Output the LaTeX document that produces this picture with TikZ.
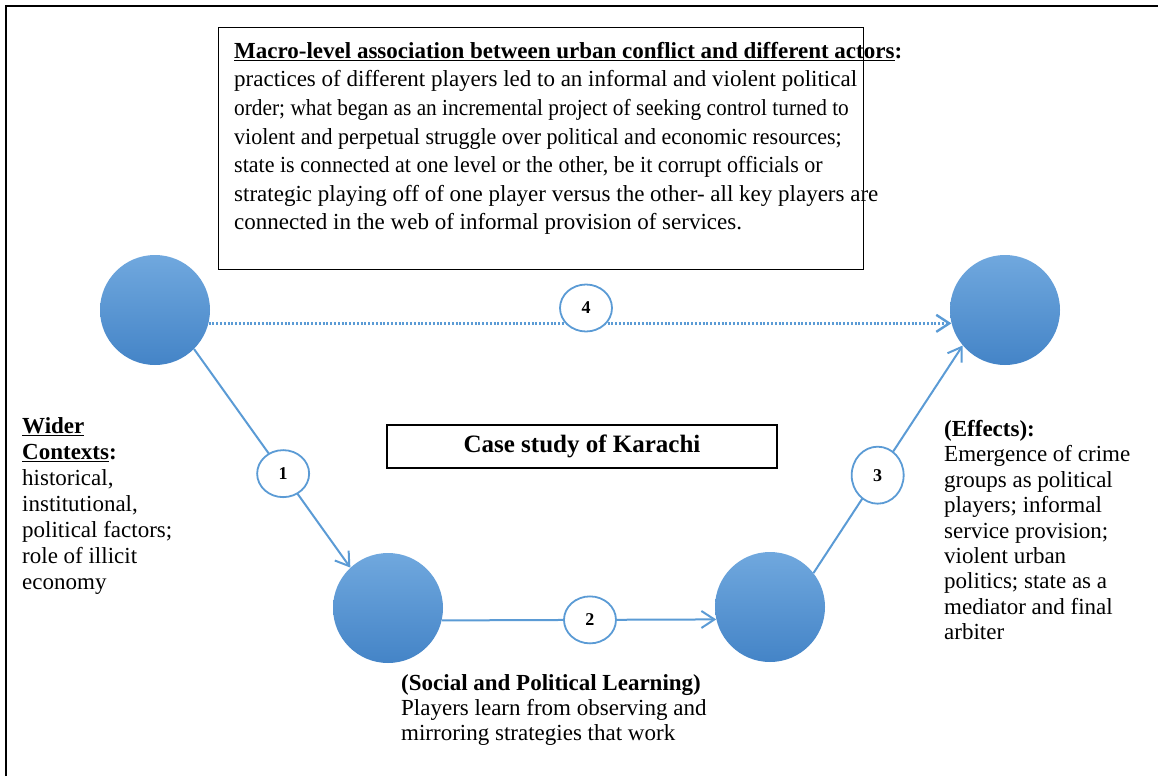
\documentclass[tikz,border=0pt]{standalone}
\usepackage{fontspec}
\setmainfont{Liberation Serif}
\usetikzlibrary{arrows.meta,shapes.geometric}
\definecolor{lineblue}{RGB}{91,155,213}
\definecolor{balltop}{RGB}{112,168,222}
\definecolor{ballbot}{RGB}{68,132,199}
\begin{document}
\begin{tikzpicture}[x=1pt,y=-1pt,
  ball/.style={circle, minimum size=110pt, inner sep=0pt, top color=balltop, bottom color=ballbot, draw=none},
  conn/.style={draw=lineblue, line width=2pt, -{Straight Barb[length=13pt,width=17pt]}},
  numlab/.style={ellipse, draw=lineblue, line width=1.8pt, fill=white, minimum width=52pt, minimum height=47pt, inner sep=0pt, font=\fontsize{18}{18}\selectfont\bfseries},
  body/.style={align=left, inner sep=0pt, anchor=north west},
  plainbox/.style={draw=black, line width=1.3pt, inner sep=0pt}
]
\useasboundingbox (0,0) rectangle (1158,776);
\draw[line width=2pt] (6,776) -- (6,6) -- (1158,6);

\node[plainbox, minimum width=645pt, minimum height=242pt, anchor=north west] (macrobox) at (218,27) {};
\node[body, font=\fontsize{23}{28.6}\selectfont] (macrotext) at (234,42)
 {\underline{\textbf{Macro-level association between urban conflict and different actors}}\textbf{:}\\
  practices of different players led to an informal and violent political\\
  \scalebox{0.928}[1]{order; what began as an incremental project of seeking control turned to}\\
  \scalebox{0.957}[1]{violent and perpetual struggle over political and economic resources;}\\
  \scalebox{0.958}[1]{state is connected at one level or the other, be it corrupt officials or}\\
  strategic playing off of one player versus the other- all key players are\\
  connected in the web of informal provision of services.};

\node[body, font=\fontsize{23}{26}\selectfont] (wider) at (22,417)
 {\underline{\textbf{Wider}}\\ \underline{\textbf{Contexts}}\textbf{:}\\ historical,\\ institutional,\\ political factors;\\ role of illicit\\ economy};

\node[body, font=\fontsize{23}{25.4}\selectfont] (effects) at (944,420)
 {\textbf{(Effects):}\\ Emergence of crime\\ groups as political\\ players; informal\\ service provision;\\ violent urban\\ politics; state as a\\ mediator and final\\ arbiter};

\node[body, font=\fontsize{23}{25}\selectfont] (learning) at (401,674)
 {\textbf{(Social and Political Learning)}\\ Players learn from observing and\\ mirroring strategies that work};

\node[plainbox, minimum width=390pt, minimum height=43pt, font=\fontsize{25}{25}\selectfont\bfseries] (case) at (582,446.5) {Case study of Karachi};

\node[ball] (A) at (155,310) {};
\node[ball] (B) at (388,608) {};
\node[ball] (C) at (770,607) {};
\node[ball] (D) at (1005,310) {};

\draw[conn] (A.-45) -- (B.133) node[pos=0.57, numlab] (l1) {1};
\draw[conn] (B.-13) -- (C.193) node[pos=0.54, numlab] (l2) {2};
\draw[conn] (C.38) -- (D.220) node[pos=0.43, numlab, minimum height=57pt] (l3) {3};
\draw[conn, line width=2.4pt, dash pattern=on 2pt off 1.8pt] (A.-14) -- (D.194);
\node[numlab] (l4) at (586,308) {4};
\end{tikzpicture}
\end{document}
